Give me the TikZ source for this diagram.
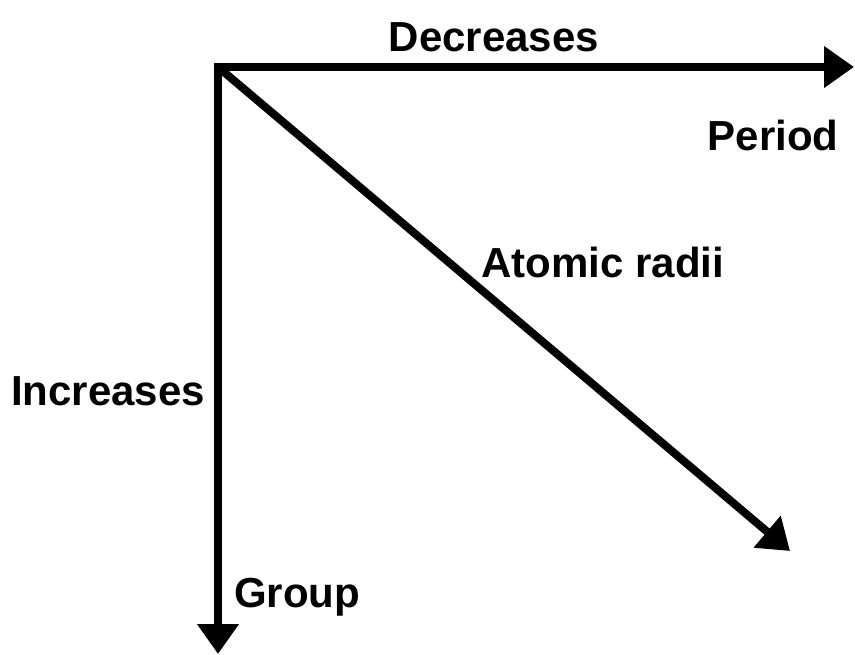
\documentclass[tikz,border=0pt]{standalone}
\usepackage{fontspec}
\setmainfont{Liberation Sans}
\usetikzlibrary{arrows.meta}

\begin{document}
\begin{tikzpicture}[x=0.5pt, y=-0.5pt,
    axis/.style={line width=4pt, line cap=rect, -{Triangle[length=15pt,width=20pt]}},
    lbl/.style={anchor=base, inner sep=0pt, font=\fontsize{21}{25}\selectfont\bfseries}]
    \useasboundingbox (0,0) rectangle (855,654);
    \coordinate (O) at (218,67);
    \coordinate (P) at (854,67);
    \coordinate (G) at (218,654);
    \coordinate (R) at (790,551);
    \draw[axis] (O) -- (P);
    \draw[axis] (O) -- (G);
    \draw[axis, line cap=butt] (O) -- (R);
    \node[lbl] (dec) at (494,51) {Decreases};
    \node[lbl] (per) at (773,150) {Period};
    \node[lbl] (rad) at (603,277) {Atomic radii};
    \node[lbl] (inc) at (108,405) {Increases};
    \node[lbl] (grp) at (297,607) {Group};
  \end{tikzpicture}
\end{document}
